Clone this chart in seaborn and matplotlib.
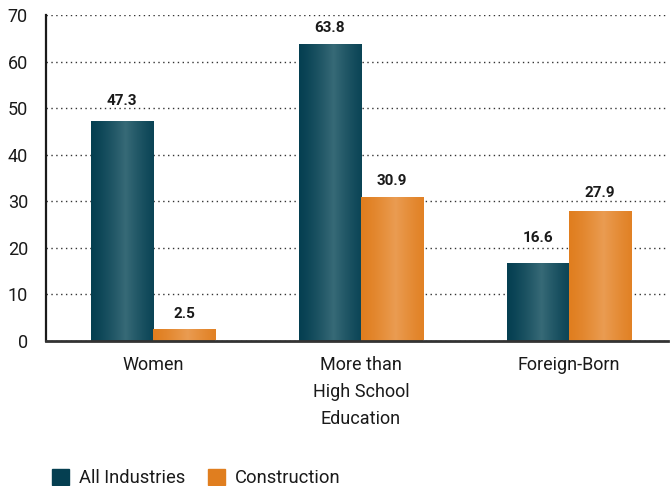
import numpy as np
import pandas as pd
import matplotlib
matplotlib.use("Agg")
import matplotlib.pyplot as plt
from matplotlib.colors import to_rgb
import seaborn as sns

# Share of workers (%) by group
categories = ["Women", "More than\nHigh School\nEducation", "Foreign-Born"]
series = ["All Industries", "Construction"]
all_industries = [47.3, 63.8, 16.6]
construction = [2.5, 30.9, 27.9]
y_ticks = [0, 10, 20, 30, 40, 50, 60, 70]

# gap (points) between each bar top and its value label
label_gaps = [[8.9, 6.0, 13.2], [6.0, 6.0, 7.4]]

df = pd.DataFrame({
    "category": categories * 2,
    "series": [series[0]] * 3 + [series[1]] * 3,
    "value": all_industries + construction,
})

teal_edge, teal_mid = "#053F51", "#376A77"
orange_edge, orange_mid = "#E07E1F", "#EA9C52"

sns.set_theme(style="white")
plt.rcParams["font.family"] = ["Roboto", "DejaVu Sans"]
plt.rcParams["text.color"] = "#1a1a1a"

fig = plt.figure(figsize=(6.7, 4.86), dpi=100)
ax = fig.add_axes([46 / 670, (486 - 340.5) / 486, 622 / 670, (340.5 - 15) / 486])

sns.barplot(data=df, x="category", y="value", hue="series",
            palette=[teal_edge, orange_edge], width=0.6, gap=0,
            saturation=1, linewidth=0, ax=ax, legend=False)


def shade(c_edge, c_mid, n=256):
    # horizontal cylinder-like shading: dark edges, light band slightly right of centre
    t = np.linspace(0, 1, n)
    w = np.clip(1 - np.abs(t - 0.55) / 0.55, 0, 1) ** 1.3
    e, m = np.array(to_rgb(c_edge)), np.array(to_rgb(c_mid))
    row = e[None, :] * (1 - w[:, None]) + m[None, :] * w[:, None]
    return row[None, :, :]


grads = [shade(teal_edge, teal_mid), shade(orange_edge, orange_mid)]
for cont, grad, gaps in zip(ax.containers, grads, label_gaps):
    for bar, gap in zip(cont, gaps):
        x0, y0 = bar.get_x(), bar.get_y()
        w, h = bar.get_width(), bar.get_height()
        im = ax.imshow(grad, extent=(x0, x0 + w, y0, y0 + h), aspect="auto",
                       zorder=bar.get_zorder() + 0.1, interpolation="bilinear")
        im.set_clip_path(bar)
        ax.annotate(f"{h:.1f}", xy=(x0 + w / 2, y0 + h), xytext=(0, gap),
                    textcoords="offset points", ha="center", va="bottom",
                    fontsize=11, fontweight="bold", color="#1a1a1a")

ax.set_xlim(-0.514, 2.476)
ax.set_ylim(0, 70)
ax.set_yticks(y_ticks)
ax.set_xlabel("")
ax.set_ylabel("")
ax.grid(axis="y", linestyle=(0, (1, 2.5)), color="#333333", linewidth=1)
ax.set_axisbelow(True)
ax.tick_params(axis="y", length=0, pad=13, labelsize=13, labelcolor="#1a1a1a")
ax.tick_params(axis="x", length=0, pad=11, labelsize=13, labelcolor="#1a1a1a")
for lab in ax.get_xticklabels():
    lab.set_linespacing(1.64)

for s in ["top", "right"]:
    ax.spines[s].set_visible(False)
ax.spines["left"].set_color("#1a1a1a")
ax.spines["left"].set_linewidth(1.6)
ax.spines["bottom"].set_color("#333333")
ax.spines["bottom"].set_linewidth(2)

handles = [plt.Rectangle((0, 0), 1, 1, color=teal_edge),
           plt.Rectangle((0, 0), 1, 1, color=orange_edge)]
fig.legend(handles, series, loc="lower left", bbox_to_anchor=(50 / 670, -3 / 486),
           ncol=2, frameon=False, fontsize=13.2, handlelength=0.95,
           handleheight=0.95, handletextpad=0.55, columnspacing=1.2,
           borderpad=0.1, borderaxespad=0)

fig.savefig("out.png", dpi=100)
